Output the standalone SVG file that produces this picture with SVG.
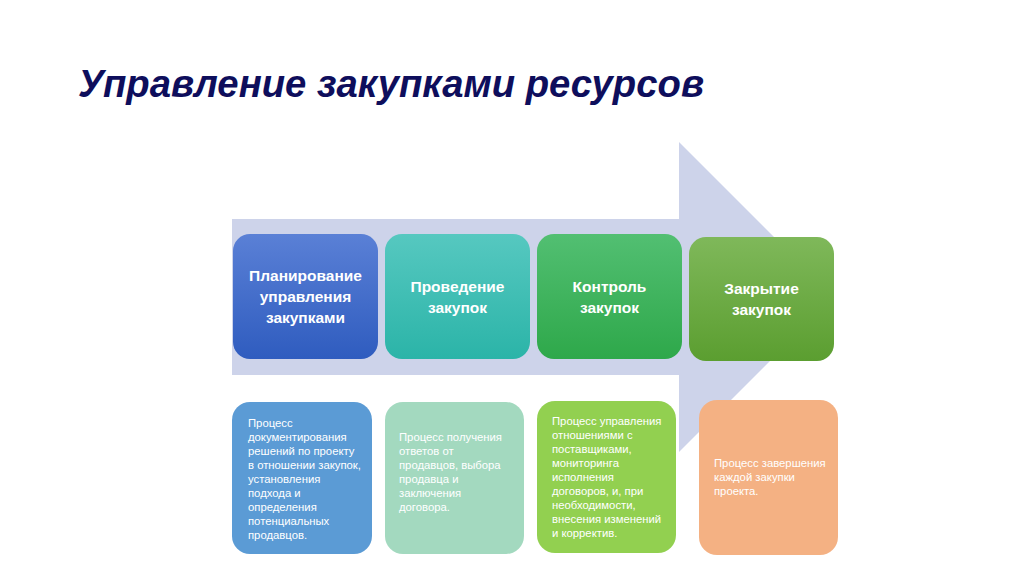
<svg xmlns="http://www.w3.org/2000/svg" width="1024" height="574" viewBox="0 0 1024 574">
<defs>
<linearGradient id="g1" x1="0" y1="0" x2="0" y2="1"><stop offset="0" stop-color="#5a80d6"/><stop offset="1" stop-color="#2f5cbf"/></linearGradient>
<linearGradient id="g2" x1="0" y1="0" x2="0" y2="1"><stop offset="0" stop-color="#56c8c0"/><stop offset="1" stop-color="#2bb4a8"/></linearGradient>
<linearGradient id="g3" x1="0" y1="0" x2="0" y2="1"><stop offset="0" stop-color="#52bf72"/><stop offset="1" stop-color="#2ea84a"/></linearGradient>
<linearGradient id="g4" x1="0" y1="0" x2="0" y2="1"><stop offset="0" stop-color="#7fb85a"/><stop offset="1" stop-color="#5b9e30"/></linearGradient>
<style>
.h{font-family:"Liberation Sans",Arial,sans-serif;font-weight:bold;font-size:15.5px;fill:#fff;text-anchor:middle}
.d{font-family:"Liberation Sans",Arial,sans-serif;font-size:11.3px;fill:#fff}
.t{font-family:"Liberation Sans",Arial,sans-serif;font-style:italic;font-weight:bold;font-size:39px;fill:#0e0e5c}
</style>
</defs>
<rect width="1024" height="574" fill="#fff"/>
<text class="t" x="78" y="97" textLength="626" lengthAdjust="spacingAndGlyphs">Управление закупками ресурсов</text>
<g id="arrow">
<polygon points="232,219 679,219 679,142 834,297 679,452 679,375 232,375" fill="#cdd3ea"/>
</g>
<g id="connectors"></g>
<g id="n1">
<rect x="233" y="234" width="145" height="125" rx="17" fill="url(#g1)"/>
<text class="h" x="305.5" y="281">Планирование</text>
<text class="h" x="305.5" y="302">управления</text>
<text class="h" x="305.5" y="323">закупками</text>
</g>
<g id="n2">
<rect x="385" y="234" width="145" height="125" rx="17" fill="url(#g2)"/>
<text class="h" x="457.5" y="292">Проведение</text>
<text class="h" x="457.5" y="313">закупок</text>
</g>
<g id="n3">
<rect x="537" y="234" width="145" height="125" rx="17" fill="url(#g3)"/>
<text class="h" x="609.5" y="292">Контроль</text>
<text class="h" x="609.5" y="313">закупок</text>
</g>
<g id="n4">
<rect x="689" y="237" width="145" height="124" rx="17" fill="url(#g4)"/>
<text class="h" x="761.5" y="294">Закрытие</text>
<text class="h" x="761.5" y="315">закупок</text>
</g>
<g id="d1">
<rect x="232" y="402" width="140" height="152" rx="18" fill="#5b9bd5"/>
<text class="d" x="248" y="427">Процесс</text>
<text class="d" x="248" y="441">документирования</text>
<text class="d" x="248" y="455">решений по проекту</text>
<text class="d" x="248" y="469">в отношении закупок,</text>
<text class="d" x="248" y="483">установления</text>
<text class="d" x="248" y="497">подхода и</text>
<text class="d" x="248" y="511">определения</text>
<text class="d" x="248" y="525">потенциальных</text>
<text class="d" x="248" y="539">продавцов.</text>
</g>
<g id="d2">
<rect x="385" y="402" width="139" height="152" rx="18" fill="#a3d9bf"/>
<text class="d" x="399" y="441">Процесс получения</text>
<text class="d" x="399" y="455">ответов от</text>
<text class="d" x="399" y="469">продавцов, выбора</text>
<text class="d" x="399" y="483">продавца и</text>
<text class="d" x="399" y="497">заключения</text>
<text class="d" x="399" y="511">договора.</text>
</g>
<g id="d3">
<rect x="537" y="401" width="139" height="152" rx="18" fill="#92d050"/>
<text class="d" x="552" y="425">Процесс управления</text>
<text class="d" x="552" y="439">отношениями с</text>
<text class="d" x="552" y="453">поставщиками,</text>
<text class="d" x="552" y="467">мониторинга</text>
<text class="d" x="552" y="481">исполнения</text>
<text class="d" x="552" y="495">договоров, и, при</text>
<text class="d" x="552" y="509">необходимости,</text>
<text class="d" x="552" y="523">внесения изменений</text>
<text class="d" x="552" y="537">и корректив.</text>
</g>
<g id="d4">
<rect x="699" y="400" width="139" height="155" rx="18" fill="#f4b183"/>
<text class="d" x="714" y="467">Процесс завершения</text>
<text class="d" x="714" y="481">каждой закупки</text>
<text class="d" x="714" y="495">проекта.</text>
</g>
</svg>
